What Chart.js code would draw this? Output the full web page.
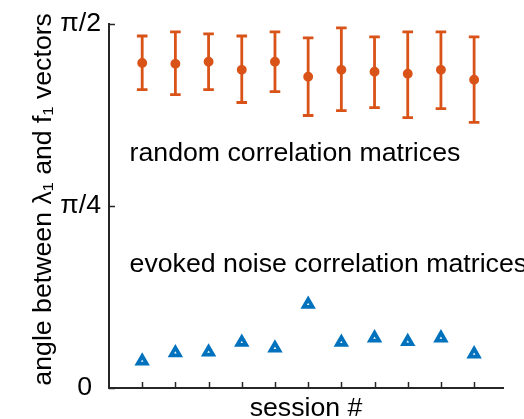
<!DOCTYPE html>
<html>
<head>
<meta charset="utf-8">
<script src="https://cdn.jsdelivr.net/npm/chart.js@4/dist/chart.umd.min.js"></script>
<style>
  html, body { margin: 0; padding: 0; background: #fff; }
  #wrap { width: 524px; height: 419px; position: relative; }
</style>
</head>
<body>
<div id="wrap"><canvas id="chart"></canvas></div>
<script>
// Session numbers and angles (radians)
const sessions = [1, 2, 3, 4, 5, 6, 7, 8, 9, 10, 11];
const randomMean = [1.403, 1.399, 1.408, 1.373, 1.408, 1.343, 1.373, 1.365, 1.356, 1.373, 1.330];
const randomLow  = [1.288, 1.266, 1.288, 1.232, 1.279, 1.176, 1.197, 1.210, 1.167, 1.206, 1.146];
const randomHigh = [1.519, 1.537, 1.528, 1.519, 1.537, 1.511, 1.554, 1.515, 1.537, 1.537, 1.515];
const evokedAngle = [0.116, 0.152, 0.155, 0.197, 0.172, 0.361, 0.197, 0.216, 0.200, 0.216, 0.147];

const yTickValues = [0, Math.PI / 4, Math.PI / 2];
const yTickLabels = ['0', 'π/4', 'π/2'];

// text annotations, anchored in data coordinates
const noteTexts = ['random correlation matrices', 'evoked noise correlation matrices'];
const noteX = [0.62, 0.62];
const noteY = [0.979, 0.502];

const ORANGE = '#D95319';
const BLUE = '#0072BD';
const AXIS = '#262626';
const FONT = "'Liberation Sans', Arial, Helvetica, sans-serif";
const FSIZE = 26.7;

Chart.defaults.font.family = FONT;

function points(ys) {
  return sessions.map(function (s, i) { return { x: s, y: ys[i] }; });
}

// error bars under the orange markers
const errorBars = {
  id: 'errorBars',
  beforeDatasetsDraw: function (chart) {
    const ctx = chart.ctx, xs = chart.scales.x, ys = chart.scales.y;
    ctx.save();
    ctx.strokeStyle = ORANGE;
    ctx.lineWidth = 2.8;
    ctx.lineCap = 'butt';
    sessions.forEach(function (s, i) {
      const px = xs.getPixelForValue(s);
      const top = ys.getPixelForValue(randomHigh[i]);
      const bot = ys.getPixelForValue(randomLow[i]);
      ctx.beginPath();
      ctx.moveTo(px, top); ctx.lineTo(px, bot);
      ctx.moveTo(px - 5.3, top); ctx.lineTo(px + 5.3, top);
      ctx.moveTo(px - 5.3, bot); ctx.lineTo(px + 5.3, bot);
      ctx.stroke();
    });
    ctx.restore();
  }
};

// MATLAB style inward ticks and text annotations
const decorations = {
  id: 'decorations',
  afterDraw: function (chart) {
    const ctx = chart.ctx, xs = chart.scales.x, ys = chart.scales.y;
    const area = chart.chartArea;
    ctx.save();
    ctx.strokeStyle = AXIS;
    ctx.lineWidth = 1.5;
    ctx.beginPath();
    sessions.forEach(function (s) {
      const px = Math.round(xs.getPixelForValue(s)) + 0.5;
      ctx.moveTo(px, area.bottom); ctx.lineTo(px, area.bottom - 6);
    });
    yTickValues.forEach(function (v) {
      const py = Math.round(ys.getPixelForValue(v)) + 0.5;
      ctx.moveTo(area.left, py); ctx.lineTo(area.left + 6, py);
    });
    ctx.stroke();

    ctx.fillStyle = '#000';
    ctx.font = FSIZE + 'px ' + FONT;
    ctx.textAlign = 'left';
    ctx.textBaseline = 'alphabetic';
    noteTexts.forEach(function (t, i) {
      ctx.fillText(t, xs.getPixelForValue(noteX[i]), ys.getPixelForValue(noteY[i]));
    });
    ctx.restore();
  }
};

new Chart(document.getElementById('chart'), {
  type: 'scatter',
  data: {
    datasets: [
      {
        label: 'random',
        data: points(randomMean),
        pointStyle: 'circle',
        pointRadius: 4.2,
        pointHoverRadius: 4.2,
        backgroundColor: ORANGE,
        borderColor: ORANGE,
        borderWidth: 1.5,
      },
      {
        label: 'evoked',
        data: points(evokedAngle),
        pointStyle: 'triangle',
        pointRadius: 5.2,
        pointHoverRadius: 5.2,
        backgroundColor: '#fff',
        borderColor: BLUE,
        borderWidth: 3.7,
      },
    ],
  },
  options: {
    responsive: true,
    maintainAspectRatio: false,
    animation: false,
    events: [],
    layout: { padding: { top: 22, right: 21, bottom: 0, left: 0 } },
    plugins: { legend: { display: false }, tooltip: { enabled: false } },
    scales: {
      x: {
        type: 'linear',
        min: 0,
        max: 11.87,
        grid: { display: false, drawTicks: false },
        border: { display: true, color: AXIS, width: 2 },
        ticks: { display: false },
        title: {
          display: true,
          text: 'session #',
          color: '#000',
          font: { size: FSIZE, lineHeight: 1 },
          padding: { top: 0, bottom: -2.5 },
        },
        afterFit: function (scale) { scale.height = 31; },
      },
      y: {
        type: 'linear',
        min: 0,
        max: Math.PI / 2,
        grid: { display: false, drawTicks: false },
        border: { display: true, color: AXIS, width: 2 },
        afterBuildTicks: function (scale) {
          scale.ticks = yTickValues.map(function (v) { return { value: v }; });
        },
        ticks: {
          autoSkip: false,
          padding: 8,
          color: '#000',
          font: { size: FSIZE },
          callback: function (value, index) {
            // MATLAB leaves a little room after the plain zero
            return index === 0 ? yTickLabels[index] + '\u2004' : yTickLabels[index];
          },
        },
        title: {
          display: true,
          text: '\u2002angle between λ\u2081 and f\u2081 vectors',
          color: '#000',
          font: { size: FSIZE, lineHeight: 1 },
          padding: { top: 30, bottom: 0 },
        },
        afterFit: function (scale) { scale.width = 109; },
      },
    },
  },
  plugins: [errorBars, decorations],
});
</script>
</body>
</html>
